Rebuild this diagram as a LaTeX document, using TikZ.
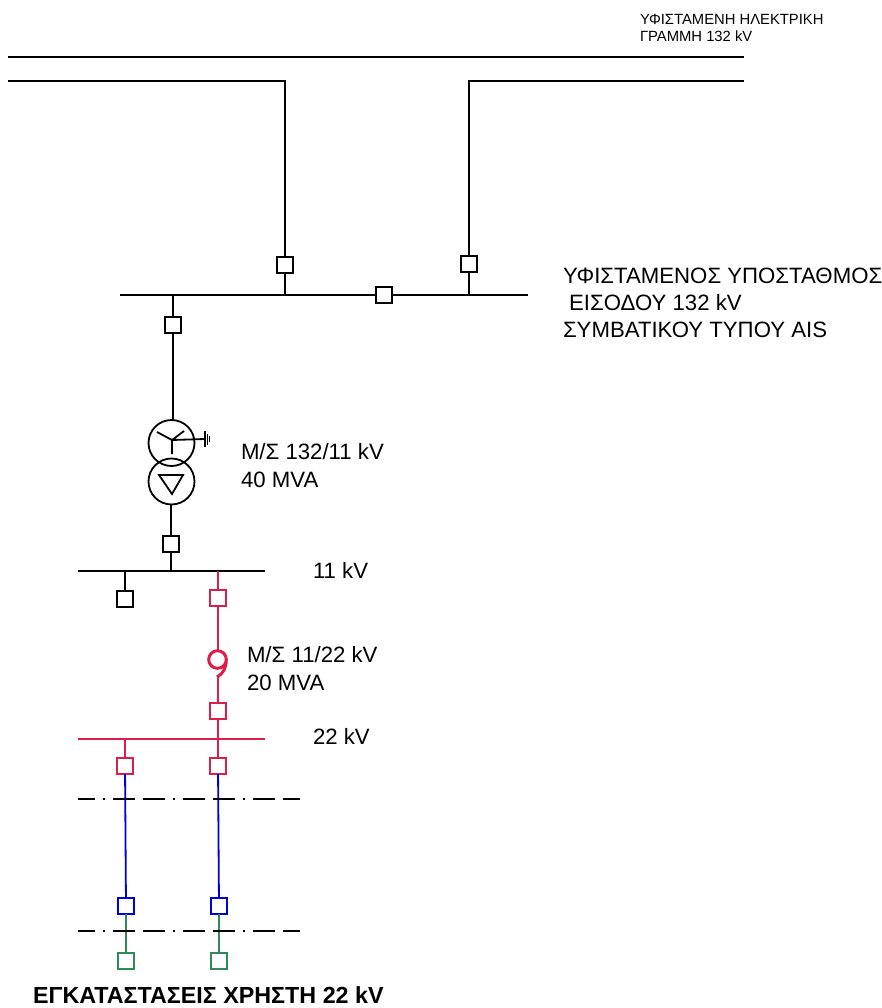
\documentclass[tikz,border=0pt]{standalone}
\usepackage{fontspec}
\setmainfont{Liberation Sans}
\definecolor{myred}{RGB}{220,30,75}
\definecolor{myblue}{RGB}{0,0,220}
\definecolor{mygreen}{RGB}{46,139,87}
\tikzset{
  sw/.style={draw,fill=white,line width=1.7pt,minimum size=16pt,inner sep=0pt,outer sep=0pt},
  ln/.style={line width=1.8pt},
  txt/.style={anchor=base west,inner sep=0pt,outer sep=0pt,font=\fontsize{22.2}{26}\selectfont},
  small/.style={anchor=base west,inner sep=0pt,outer sep=0pt,font=\fontsize{14.8}{17}\selectfont},
  dd/.style={line width=1.8pt,dash pattern=on 22pt off 8pt on 22pt off 8pt on 1.5pt off 8.5pt,dash phase=35pt},
  wind/.style={draw,circle,line width=1.8pt,minimum size=46pt,inner sep=0pt,outer sep=0pt}
}
\begin{document}
\begin{tikzpicture}[x=1pt,y=-1pt]
\useasboundingbox (0,0) rectangle (882,1008);
% coordinates
\coordinate (t1) at (8,57); \coordinate (t2) at (744,57);
\coordinate (l1) at (8,81); \coordinate (l2) at (285,81);
\coordinate (r1) at (744,81); \coordinate (r2) at (469,81);
\coordinate (b1) at (120,295); \coordinate (b2) at (528,295);
\coordinate (jl) at (285,295); \coordinate (jr) at (469,295); \coordinate (jt) at (173,295);
\coordinate (m1) at (78,571); \coordinate (m2) at (265,571);
\coordinate (jm1) at (125,571); \coordinate (jm2) at (171,571); \coordinate (jm3) at (218,571);
\coordinate (n1) at (78,739); \coordinate (n2) at (265,739);
\coordinate (jn1) at (125,739); \coordinate (jn2) at (218,739);
\coordinate (d1a) at (78,799); \coordinate (d1b) at (300,799);
\coordinate (d2a) at (78,931); \coordinate (d2b) at (300,931);
% upper lines
\draw[ln] (t1) -- (t2);
\draw[ln] (l1) -- (l2) -- (jl);
\draw[ln] (r1) -- (r2) -- (jr);
\draw[ln] (b1) -- (b2);
\node[sw] (s1) at (285,265) {};
\node[sw] (s2) at (469,264) {};
\node[sw] (s3) at (384,295) {};
\node[sw] (s4) at (173,325) {};
% transformer
\node[wind] (tu) at (171.5,443) {};
\node[wind] (tl) at (171.5,481.5) {};
\coordinate (st) at (172,440);
\draw[ln] (st) -- (157,432) (st) -- (184,431) (st) -- (172,454) (st) -- (205,439);
\draw[ln] (205,431) -- (205,447);
\draw[line width=1pt] (207.4,433.5) -- (207.4,444.5) (209.4,436) -- (209.4,442);
\draw[ln] (159,475) -- (183,475) -- (172,494) -- cycle;
\draw[ln] (jt) -- (s4);
\draw[ln] (s4) -- (s4|-tu.north);
\node[sw] (s5) at (171,544) {};
\draw[ln] (s5|-tl.south) -- (s5);
% 11 kV bus
\draw[ln] (m1) -- (m2);
\draw[ln] (s5) -- (jm2);
\node[sw] (s6) at (125,599) {};
\draw[ln] (jm1) -- (s6);
% red part
\node[sw,draw=myred] (s7) at (218,598) {};
\node[sw,draw=myred] (s8) at (218,711) {};
\node[sw,draw=myred] (s9) at (125,766) {};
\node[sw,draw=myred] (s10) at (218,766) {};
\draw[ln,myred] (jm3) -- (s7);
\coordinate (c1) at (218,650);
\coordinate (c2) at (218,677);
\draw[ln,myred] (s7) -- (c1);
\draw[ln,myred] (c2) -- (s8);
\draw[myred,line width=3pt] (226.3,659.5) arc (0:360:8.8) .. controls (226.3,668) and (223,674) .. (217,677);
\draw[ln,myred] (n1) -- (n2);
\draw[ln,myred] (jn1) -- (s9);
\draw[ln,myred] (jn2) -- (s10);
\draw[ln,myred] (s8) -- (jn2);
% blue
\node[sw,draw=myblue] (s11) at (126,906) {};
\node[sw,draw=myblue] (s12) at (219,906) {};
\draw[ln,myblue] (s9) -- (s11);
\draw[ln,myblue] (s10) -- (s12);
% green
\node[sw,draw=mygreen] (s13) at (126,961) {};
\node[sw,draw=mygreen] (s14) at (219,961) {};
\draw[ln,mygreen] (s11) -- (s13);
\draw[ln,mygreen] (s12) -- (s14);
% dash-dot
\draw[dd] (d1a) -- (d1b);
\draw[dd] (d2a) -- (d2b);
% text
\node[small] (a1) at (640,25) {ΥΦΙΣΤΑΜΕΝΗ ΗΛΕΚΤΡΙΚΗ};
\node[small] (a2) at (640,42) {ΓΡΑΜΜΗ 132 kV};
\node[txt] (a3) at (563,283) {ΥΦΙΣΤΑΜΕΝΟΣ ΥΠΟΣΤΑΘΜΟΣ};
\node[txt] (a4) at (563,310) {\ ΕΙΣΟΔΟΥ 132 kV};
\node[txt] (a5) at (563,337) {ΣΥΜΒΑΤΙΚΟΥ ΤΥΠΟΥ AIS};
\node[txt] (a6) at (241,459) {Μ/Σ 132/11 kV};
\node[txt] (a7) at (241,487) {40 MVA};
\node[txt] (a8) at (313,578.5) {11 kV};
\node[txt] (a9) at (247,662) {Μ/Σ 11/22 kV};
\node[txt] (a10) at (247,690) {20 MVA};
\node[txt] (a11) at (313,744) {22 kV};
\node[txt,font=\bfseries\fontsize{23.3}{27}\selectfont] (a12) at (33,1003.5) {ΕΓΚΑΤΑΣΤΑΣΕΙΣ ΧΡΗΣΤΗ 22 kV};
\end{tikzpicture}
\end{document}
